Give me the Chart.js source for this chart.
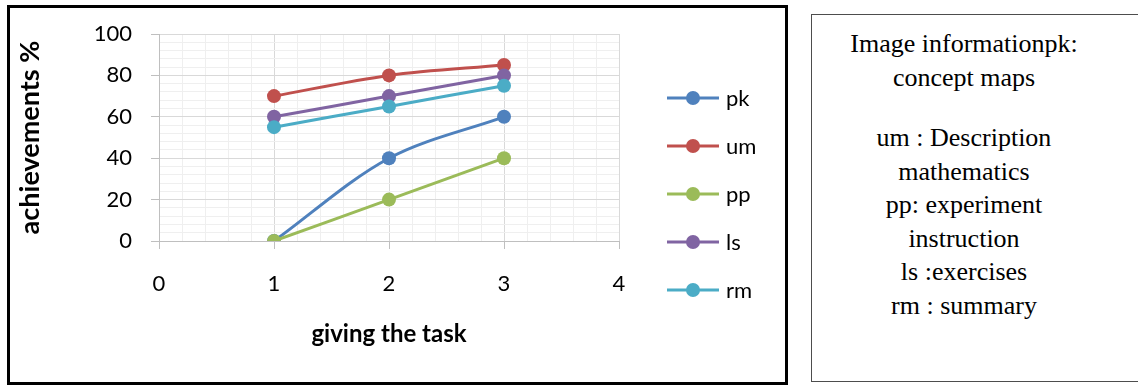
<!DOCTYPE html>
<html>
<head>
<meta charset="utf-8">
<script src="https://cdn.jsdelivr.net/npm/chart.js@4.4.1/dist/chart.umd.min.js"></script>
<style>
  html, body { margin: 0; padding: 0; background: #fff; }
  body { width: 1138px; height: 385px; position: relative; overflow: hidden; }
  #frame {
    position: absolute; left: 7px; top: 5px; width: 781px; height: 380px;
    box-sizing: border-box; border: 3px solid #000; pointer-events: none; z-index: 2;
  }
  #wrap { position: absolute; left: 0; top: 0; width: 800px; height: 385px; z-index: 1; }
  #note {
    position: absolute; left: 811px; top: 14px; width: 420px; height: 368px;
    box-sizing: border-box; border: 1px solid #4d4d4d;
  }
  #noteText {
    position: absolute; left: 811px; top: 27px; width: 306px;
    text-align: center; font-family: "Liberation Serif", "Times New Roman", serif;
    font-size: 26px; line-height: 33.5px; color: #000;
  }
  #noteText p { margin: 0; }
  #noteText p + p { margin-top: 27px; }
</style>
</head>
<body>
<div id="wrap"><canvas id="chart" width="800" height="385"></canvas></div>
<div id="frame"></div>
<div id="note"></div>
<div id="noteText">
  <p>Image informationpk:<br>concept maps</p>
  <p>um : Description<br>mathematics<br>pp: experiment<br>instruction<br>ls :exercises<br>rm : summary</p>
</div>
<script>
// Task number (x) and achievement percentages per teaching method
const tasks = [1, 2, 3];
const pk = [0, 40, 60];
const um = [70, 80, 85];
const pp = [0, 20, 40];
const ls = [60, 70, 80];
const rm = [55, 65, 75];

const seriesNames = ['pk', 'um', 'pp', 'ls', 'rm'];
const seriesValues = [pk, um, pp, ls, rm];
const seriesColors = ['#4F81BD', '#C0504D', '#9BBB59', '#8064A2', '#4BACC6'];

// Labelled ticks; the finer steps in between only carry minor grid lines
const xTickLabels = [0, 1, 2, 3, 4];
const yTickLabels = [0, 20, 40, 60, 80, 100];

const isMajor = (v, list) => list.some(m => Math.abs(m - v) < 1e-6);

const MAJOR = '#d9d9d9';
const MINOR = '#efefef';
const AXIS = '#bfbfbf';
const FONT = 'Lato, "Open Sans", sans-serif';

const datasets = seriesNames.map((name, i) => ({
  label: name,
  data: tasks.map((t, k) => ({ x: t, y: seriesValues[i][k] })),
  borderColor: seriesColors[i],
  backgroundColor: seriesColors[i],
  pointBackgroundColor: seriesColors[i],
  pointBorderColor: seriesColors[i],
  pointRadius: 7,
  pointBorderWidth: 0,
  borderWidth: 3,
  tension: 0.33,
  fill: false,
  order: seriesNames.length - i   // later series sit on top
}));

// Legend on the right: line with a round marker, then the series name
const sideLegend = {
  id: 'sideLegend',
  afterDraw(chart) {
    const ctx = chart.ctx;
    ctx.save();
    chart.data.datasets.forEach((ds, i) => {
      const y = 98 + i * 48;
      ctx.strokeStyle = ds.borderColor;
      ctx.lineWidth = 3;
      ctx.beginPath();
      ctx.moveTo(667, y);
      ctx.lineTo(719, y);
      ctx.stroke();
      ctx.fillStyle = ds.borderColor;
      ctx.beginPath();
      ctx.arc(693, y, 7, 0, Math.PI * 2);
      ctx.fill();
      ctx.fillStyle = '#000';
      ctx.font = '22px ' + FONT;
      ctx.textAlign = 'left';
      ctx.textBaseline = 'middle';
      ctx.fillText(ds.label, 726, y + 1);
    });
    ctx.restore();
  }
};

new Chart(document.getElementById('chart'), {
  type: 'line',
  data: { datasets },
  plugins: [sideLegend],
  options: {
    responsive: false,
    animation: false,
    events: [],
    layout: { padding: { left: 0, top: 34, right: 181, bottom: 0 } },
    plugins: { legend: { display: false }, tooltip: { enabled: false } },
    scales: {
      x: {
        type: 'linear',
        min: 0, max: 4,
        afterFit(scale) { scale.height = 144; },
        ticks: {
          stepSize: 0.2,
          maxTicksLimit: 100,
          autoSkip: false,
          maxRotation: 0,
          padding: 22,
          color: '#000',
          font: { family: FONT, size: 22 },
          callback: v => (isMajor(v, xTickLabels) ? String(Math.round(v)) : '')
        },
        grid: {
          color: c => (isMajor(c.tick.value, xTickLabels) ? MAJOR : MINOR),
          tickColor: c => (isMajor(c.tick.value, xTickLabels) ? AXIS : 'rgba(0,0,0,0)'),
          tickLength: 8,
          lineWidth: 1
        },
        border: { color: AXIS, width: 1 },
        title: {
          display: true,
          text: 'giving the task',
          color: '#000',
          font: { family: FONT, size: 24, weight: 'bold' },
          padding: { top: 0, bottom: 36 }
        }
      },
      y: {
        min: 0, max: 100,
        afterFit(scale) { scale.width = 159; },
        ticks: {
          stepSize: 4,
          maxTicksLimit: 100,
          autoSkip: false,
          padding: 19,
          color: '#000',
          font: { family: FONT, size: 22 },
          callback: v => (isMajor(v, yTickLabels) ? String(Math.round(v)) : '')
        },
        grid: {
          color: c => (isMajor(c.tick.value, yTickLabels) ? MAJOR : MINOR),
          tickColor: c => (isMajor(c.tick.value, yTickLabels) ? AXIS : 'rgba(0,0,0,0)'),
          tickLength: 8,
          lineWidth: 1
        },
        border: { color: AXIS, width: 1 },
        title: {
          display: true,
          text: 'achievements %',
          color: '#000',
          font: { family: FONT, size: 27, weight: 'bold' },
          padding: { top: 14, bottom: 0 }
        }
      }
    }
  }
});
</script>
</body>
</html>
